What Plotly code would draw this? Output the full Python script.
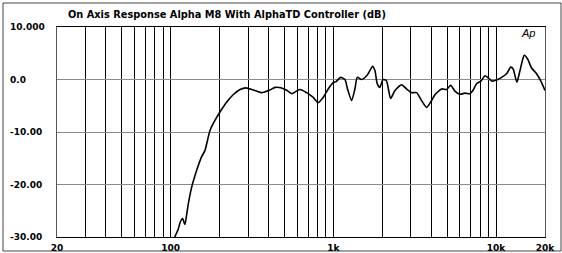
import plotly.graph_objects as go

title_text = "On Axis Response Alpha M8 With AlphaTD Controller (dB)"

freq_hz = [104, 106, 111, 115, 118.5, 121, 122.4, 125, 128.3, 134.6, 144.5, 155, 162.5,
           174.4, 187, 201, 221, 242, 267, 290, 322, 362, 407, 438, 481, 520, 554, 623,
           685, 752, 807, 867, 930, 998, 1040, 1108, 1178, 1222, 1295, 1357, 1403, 1493,
           1613, 1742, 1801, 1860, 1931, 2020, 2118, 2249, 2391, 2628, 2819, 3028, 3250,
           3440, 3743, 4019, 4212, 4629, 4970, 5262, 5585, 6000, 6440, 6915, 7240, 7594,
           8075, 8544, 8963, 9407, 10100, 10820, 11610, 12330, 12740, 13430, 14040, 14900,
           15640, 16530, 17750, 19000, 20000]
level_db = [-31, -30, -28.6, -27, -26.5, -27.3, -27.6, -26, -23.7, -20.5, -17.3, -14.7, -13.5,
            -9.7, -7.8, -6.2, -4.3, -2.9, -1.9, -1.6, -2.0, -2.5, -2.0, -1.5, -1.6, -2.1, -2.7, -1.9,
            -2.5, -3.4, -4.4, -3.4, -1.8, -0.6, -0.4, 0.4, 0.0, -1.8, -4.0, -1.8, 0.4, 0.0,
            0.8, 2.5, 1.7, -0.8, -1.5, 0.0, -0.2, -3.6, -2.1, -1.0, -1.8, -2.5, -2.5,
            -3.7, -5.3, -4.0, -2.9, -1.8, -1.9, -1.1, -2.2, -2.8, -2.6, -2.7, -2.0, -0.8,
            -0.3, 0.7, 0.3, -0.3, -0.1, 0.4, 1.1, 2.35, 2.0, -0.5, 1.7, 4.6,
            3.9, 2.2, 1.1, -0.5, -2.1]

x_grid = [20, 30, 40, 50, 60, 70, 80, 90, 100, 200, 300, 400, 500, 600, 700, 800, 900,
          1000, 2000, 3000, 4000, 5000, 6000, 7000, 8000, 9000, 10000, 20000]
x_labels = {20: "20", 100: "100", 1000: "1k", 10000: "10k", 20000: "20k"}
y_ticks = [10, 0, -10, -20, -30]
y_labels = ["10.000", "0.0", "-10.00", "-20.00", "-30.00"]

W, H = 562, 253
L, R, T, B = 57, 17, 27, 16
pw, ph = W - L - R, H - T - B

FONT = "DejaVu Sans"

fig = go.Figure()
fig.add_trace(go.Scatter(x=freq_hz, y=level_db, mode="lines",
                         line=dict(color="black", width=1.6, shape="spline", smoothing=0.6),
                         hoverinfo="skip", showlegend=False))

fig.update_xaxes(type="log", range=[1.30103, 4.30103],
                 tickvals=x_grid,
                 ticktext=["<b>%s</b>" % x_labels[v] if v in x_labels else "" for v in x_grid],
                 showgrid=True, gridcolor="black", gridwidth=1.4,
                 showline=True, linecolor="black", linewidth=1, mirror=True,
                 ticks="", ticklen=0, ticklabelstandoff=2,
                 tickfont=dict(family=FONT, size=9, color="black"),
                 zeroline=False, automargin=False)
fig.update_yaxes(range=[-30, 10], tickvals=y_ticks, showticklabels=False,
                 showgrid=True, gridcolor="#8a8a8a", gridwidth=1.4,
                 showline=True, linecolor="#555", linewidth=1, mirror=True,
                 ticks="", zeroline=False, automargin=False)

annotations = []
for v, t in zip(y_ticks, y_labels):
    annotations.append(dict(x=(8 - L) / pw, xref="paper", y=v, yref="y",
                            xanchor="left", yanchor="middle", showarrow=False,
                            text="<b>%s</b>" % t,
                            font=dict(family=FONT, size=9, color="black")))
annotations.append(dict(x=(66 - L) / pw, xref="paper", y=(H - B - 14) / ph,
                        yref="paper", showarrow=False, text="<b>%s</b>" % title_text,
                        xanchor="left", yanchor="middle",
                        font=dict(family=FONT, size=9.8, color="black")))
annotations.append(dict(x=(528 - L) / pw, xref="paper", y=(H - B - 33) / ph,
                        yref="paper", showarrow=False, text="<i>Ap</i>",
                        xanchor="center", yanchor="middle",
                        font=dict(family="Liberation Sans", size=11, color="black")))

shapes = [dict(type="rect", xref="paper", yref="paper",
               x0=(3 - L) / pw, x1=(561 - L) / pw,
               y0=(H - B - 251) / ph, y1=(H - B - 3) / ph,
               line=dict(color="#444", width=1), layer="below")]

fig.update_layout(width=W, height=H, margin=dict(l=L, r=R, t=T, b=B, autoexpand=False),
                  paper_bgcolor="white", plot_bgcolor="white",
                  annotations=annotations, shapes=shapes)

fig.write_html("out.html", config={"displayModeBar": False},
               post_script="document.body.style.margin='0';document.body.style.overflow='hidden';")
